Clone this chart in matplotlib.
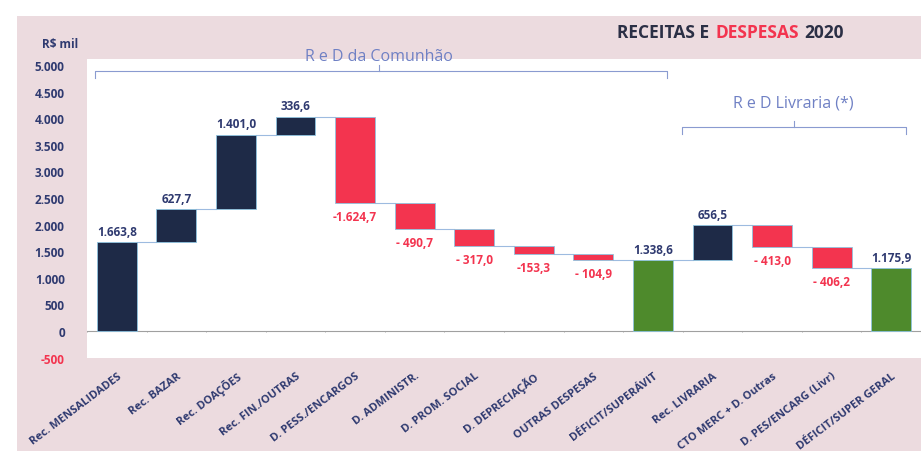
import matplotlib
matplotlib.use("Agg")
import matplotlib.pyplot as plt
from matplotlib.patches import Rectangle
import numpy as np

plt.rcParams['font.family'] = ['Open Sans', 'DejaVu Sans']

categorias = ["Rec. MENSALIDADES", "Rec. BAZAR", "Rec. DOAÇÕES", "Rec. FIN./OUTRAS",
              "D. PESS./ENCARGOS", "D. ADMINISTR.", "D. PROM. SOCIAL", "D. DEPRECIAÇÃO",
              "OUTRAS DESPESAS", "DÉFICIT/SUPERÁVIT", "Rec. LIVRARIA",
              "CTO MERC + D. Outras", "D. PES/ENCARG (Livr)", "DÉFICIT/SUPER GERAL"]
valores = [1663.8, 627.7, 1401.0, 336.6, -1624.7, -490.7, -317.0, -153.3, -104.9,
           1338.6, 656.5, -413.0, -406.2, 1175.9]
# True = barra de total (parte do zero)
total = [False, False, False, False, False, False, False, False, False,
         True, False, False, False, True]
rotulos = ["1.663,8", "627,7", "1.401,0", "336,6", "-1.624,7", "- 490,7", "- 317,0",
           "-153,3", "- 104,9", "1.338,6", "656,5", "- 413,0", "- 406,2", "1.175,9"]
yticks = [-500, 0, 500, 1000, 1500, 2000, 2500, 3000, 3500, 4000, 4500, 5000]
yticklabels = ["-500", "0", "500", "1.000", "1.500", "2.000", "2.500", "3.000",
               "3.500", "4.000", "4.500", "5.000"]

AZUL = '#1e2a47'
VERM = '#f3344f'
VERDE = '#4e8a2c'
TXT = '#2f3a70'
FUNDO = '#ecdbdf'

fig = plt.figure(figsize=(9.21, 4.52), dpi=100, facecolor='white')
fig.patches.append(Rectangle((17/921, 0), 1, 1 - 17/452, transform=fig.transFigure,
                             facecolor=FUNDO, edgecolor='none', zorder=-10))

ax = fig.add_axes([87/921, 93.4/452, 1 - 87/921, 298.6/452])
ax.set_facecolor('white')
for s in ax.spines.values():
    s.set_visible(False)

x = np.arange(len(valores))
w = 0.67
nivel = 0.0
bases, alturas, cores, topo = [], [], [], []
for v, t in zip(valores, total):
    if t:
        bases.append(0); alturas.append(v); cores.append(VERDE)
        nivel = v
    else:
        if v >= 0:
            bases.append(nivel); cores.append(AZUL)
        else:
            bases.append(nivel + v); cores.append(VERM)
        alturas.append(abs(v))
        nivel = nivel + v
    topo.append(nivel)

ax.bar(x, alturas, bottom=bases, width=w, color=cores, edgecolor='#8fc3e0',
       linewidth=0.6, zorder=3)

# linhas de ligacao
for i in range(len(x) - 1):
    ax.plot([x[i] + w/2, x[i+1] - w/2], [topo[i], topo[i]], color='#9dbbe0',
            lw=0.8, zorder=2)

# rotulos de dados
for i, (v, r) in enumerate(zip(valores, rotulos)):
    if v >= 0:
        ax.annotate(r, (x[i], bases[i] + alturas[i]), xytext=(0, 3),
                    textcoords='offset points', ha='center', va='bottom',
                    fontsize=8.5, fontweight='bold', color=TXT, zorder=4)
    else:
        ax.annotate(r, (x[i], bases[i]), xytext=(0, -5),
                    textcoords='offset points', ha='center', va='top',
                    fontsize=8.5, fontweight='bold', color=VERM, zorder=4)

# linha do zero
ax.axhline(0, color='#a0a0a0', lw=0.8, zorder=1)
ax.vlines(np.arange(len(x) + 1) - 0.5, -25, 0, color='#a0a0a0', lw=0.6)

ax.set_xlim(-0.5, len(x) - 0.5)
ax.set_ylim(-500, 5113)
ax.set_yticks(yticks)
ax.set_yticklabels(yticklabels)
ax.tick_params(axis='y', length=0, pad=16, labelsize=8.5, labelcolor=TXT)
for lbl in ax.get_yticklabels():
    lbl.set_fontweight('bold')
    if lbl.get_text().startswith('-'):
        lbl.set_color(VERM)
ax.set_xticks(x)
ax.set_xticklabels(categorias, rotation=37, ha='right', rotation_mode='anchor',
                   fontsize=8, fontweight='bold', color=TXT)
ax.tick_params(axis='x', length=0, pad=9)

fig.text(60/921, 1 - 45/452, 'R$ mil', ha='center', va='center', fontsize=8.5,
         fontweight='bold', color=TXT)

# chaves
COR_CH = '#8a9bd0'
def chave(x0, x1, xm, y, h, ytxt, texto, fs):
    ax.plot([x0, x0, x1, x1], [y - h, y, y, y - h], color=COR_CH, lw=0.8, clip_on=False)
    ax.plot([xm, xm], [y, y + h], color=COR_CH, lw=0.8, clip_on=False)
    ax.text(xm, ytxt, texto, ha='center', va='center', fontsize=fs, color='#6f80c4',
            clip_on=False)

chave(-0.37, 9.23, 4.4, 4880, 120, 5170, 'R e D da Comunhão', 11.5)
chave(9.48, 13.25, 11.36, 3830, 120, 4300, 'R e D Livraria (*)', 11.5)

# titulo
TY = 1 - 33/452
t1 = fig.text(617/921, TY, 'RECEITAS E', ha='left', va='center',
              fontsize=12.5, fontweight='bold', color='#2b2f45')
t2 = fig.text(0, TY, 'DESPESAS', va='center', fontsize=12.5, fontweight='bold',
              color=VERM)
t3 = fig.text(0, TY, '2020', va='center', fontsize=12.5, fontweight='bold',
              color='#2b2f45')
fig.canvas.draw()
r = fig.canvas.get_renderer()
bb = t1.get_window_extent(r)
t2.set_x((bb.x1 + 6) / fig.bbox.width)
bb2 = t2.get_window_extent(r)
t3.set_x((bb2.x1 + 6) / fig.bbox.width)

fig.savefig('out.png', dpi=100, facecolor=fig.get_facecolor())
